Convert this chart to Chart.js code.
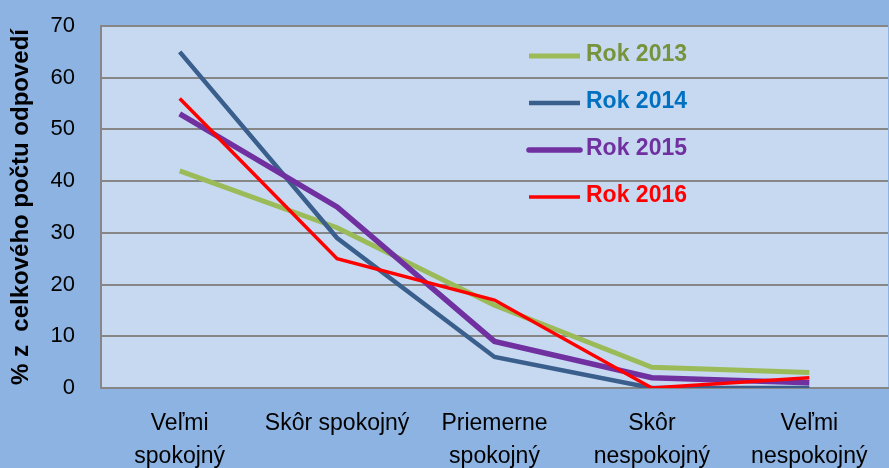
<!DOCTYPE html>
<html>
<head>
<meta charset="utf-8">
<script src="https://cdn.jsdelivr.net/npm/chart.js@4"></script>
<style>
  body { margin: 0; background: #8DB3E2; }
  #wrap { width: 889px; height: 468px; position: relative; }
</style>
</head>
<body>
<div id="wrap"><canvas id="satisfactionChart"></canvas></div>
<script>
// Data
const categories = [['Veľmi', 'spokojný'], 'Skôr spokojný', ['Priemerne', 'spokojný'], ['Skôr', 'nespokojný'], ['Veľmi', 'nespokojný']];
const seriesNames = ['Rok 2013', 'Rok 2014', 'Rok 2015', 'Rok 2016'];
const rok2013 = [42, 31, 16, 4, 3];
const rok2014 = [65, 29, 6, 0, 0];
const rok2015 = [53, 35, 9, 2, 1];
const rok2016 = [56, 25, 17, 0, 2];
const yTicks = [0, 10, 20, 30, 40, 50, 60, 70];

const lineColors = ['#9BBB59', '#3B5F8C', '#7030A0', '#FF0000'];
const textColors = ['#77933C', '#0070C0', '#7030A0', '#FF0000'];
const lineWidths = [5, 4.5, 5.5, 3.5];

// Plot area background
const plotBackground = {
    id: 'plotBackground',
    beforeDraw(chart) {
        const a = chart.chartArea;
        const ctx = chart.ctx;
        ctx.save();
        ctx.fillStyle = '#C6D9F1';
        ctx.fillRect(a.left, a.top, a.right - a.left, a.bottom - a.top);
        ctx.restore();
    }
};

// Legend drawn inside the plot, top right
const insideLegend = {
    id: 'insideLegend',
    afterDraw(chart) {
        const a = chart.chartArea;
        const ctx = chart.ctx;
        ctx.save();
        chart.data.datasets.forEach((ds, i) => {
            const y = a.top + 30 + i * 47;
            const x0 = a.left + 428;
            ctx.strokeStyle = ds.borderColor;
            ctx.lineWidth = ds.borderWidth;
            ctx.lineCap = i === 2 ? 'round' : 'butt';
            ctx.beginPath();
            ctx.moveTo(x0, y);
            ctx.lineTo(x0 + 51, y);
            ctx.stroke();
            ctx.fillStyle = textColors[i];
            ctx.font = 'bold 23px "Liberation Sans", Arial, sans-serif';
            ctx.textBaseline = 'middle';
            ctx.fillText(ds.label, x0 + 57, y - 1);
        });
        ctx.restore();
    }
};

const allSeries = [rok2013, rok2014, rok2015, rok2016];

const ctx = document.getElementById('satisfactionChart').getContext('2d');
new Chart(ctx, {
    type: 'line',
    data: {
        labels: categories,
        datasets: allSeries.map((values, i) => ({
            label: seriesNames[i],
            data: values,
            borderColor: lineColors[i],
            backgroundColor: lineColors[i],
            borderWidth: lineWidths[i],
            pointRadius: 0,
            tension: 0,
            order: 3 - i
        }))
    },
    options: {
        responsive: true,
        maintainAspectRatio: false,
        animation: false,
        layout: { padding: { top: 26, right: 1, left: 0, bottom: 0 } },
        plugins: {
            legend: { display: false },
            tooltip: { enabled: false }
        },
        scales: {
            x: {
                offset: true,
                grid: { display: false, drawTicks: false },
                border: { display: true, color: '#868686', width: 2 },
                ticks: {
                    color: '#000',
                    padding: 19,
                    maxRotation: 0,
                    autoSkip: false,
                    font: { family: '"Liberation Sans", Arial, sans-serif', size: 23, lineHeight: 1.43 }
                },
                afterFit(scale) { scale.height = 80; }
            },
            y: {
                min: 0,
                max: 70,
                afterBuildTicks(scale) { scale.ticks = yTicks.map(v => ({ value: v })); },
                grid: { color: '#868686', lineWidth: 2, drawTicks: false },
                border: { display: true, color: '#868686', width: 2 },
                ticks: {
                    color: '#000',
                    padding: 26,
                    font: { family: '"Liberation Sans", Arial, sans-serif', size: 22 }
                },
                title: {
                    display: true,
                    text: '% z  celkového počtu odpovedí',
                    color: '#000',
                    padding: { top: 7, bottom: 0 },
                    font: { family: '"Liberation Sans", Arial, sans-serif', size: 24, weight: 'bold' }
                },
                afterFit(scale) {
                    scale.width = 101;
                    scale.paddingTop = 0;
                    scale.paddingBottom = 0;
                }
            }
        }
    },
    plugins: [plotBackground, insideLegend]
});
</script>
</body>
</html>
